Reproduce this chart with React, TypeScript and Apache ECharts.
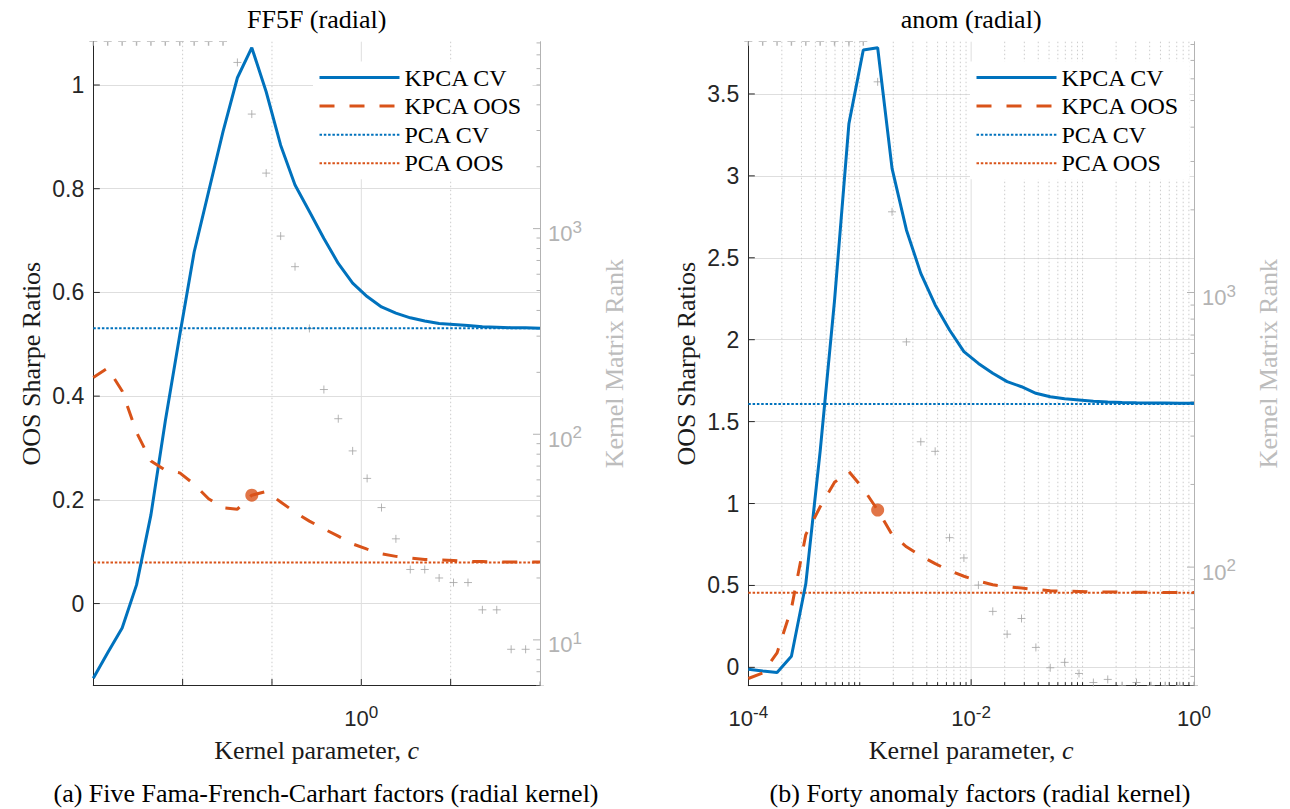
import React, { useEffect, useRef } from "react";
import * as echarts from "echarts";

// ---------------- Data: FF5F (radial) ----------------
// x positions: log2 of the kernel parameter c
const ffLog2C = [
  -3, -2.839, -2.677, -2.516, -2.355, -2.194, -2.032, -1.871, -1.71, -1.548, -1.387, -1.226, -1.065, -0.903, -0.742, -0.581,
  -0.419, -0.258, -0.097, 0.065, 0.226, 0.387, 0.548, 0.71, 0.871, 1.032, 1.194, 1.355, 1.516, 1.677, 1.839, 2,
];
const ffKpcaCv = [
  -0.144, -0.095, -0.047, 0.036, 0.171, 0.352, 0.518, 0.678, 0.794, 0.91, 1.014, 1.072, 0.987, 0.884, 0.807, 0.756,
  0.704, 0.656, 0.618, 0.592, 0.572, 0.56, 0.551, 0.545, 0.54, 0.538, 0.536, 0.534, 0.533, 0.532, 0.532, 0.531,
];
const ffKpcaOos = [
  0.436, 0.454, 0.41, 0.33, 0.275, 0.257, 0.252, 0.23, 0.202, 0.185, 0.182, 0.209, 0.216, 0.196, 0.176, 0.159,
  0.144, 0.13, 0.115, 0.105, 0.096, 0.091, 0.088, 0.085, 0.084, 0.083, 0.081, 0.081, 0.08, 0.08, 0.08, 0.08,
];
const ffPcaCv = 0.531;
const ffPcaOos = 0.079;
const ffRank = [
  8110, 8110, 8110, 8110, 8110, 8110, 8110, 8110, 8110, 8110, 6430, 3606, 1862, 920, 653, 327,
  165, 119, 83, 61, 44, 31, 22, 22, 20, 19, 19, 14, 14, 9, 9, 6,
];
const ffBestIndex = 11;

// ---------------- Data: anom (radial) ----------------
// x positions: log10 of the kernel parameter c
const anLog10C = [
  -4, -3.871, -3.742, -3.613, -3.484, -3.355, -3.226, -3.097, -2.968, -2.839, -2.71, -2.581, -2.452, -2.323, -2.194, -2.065,
  -1.935, -1.806, -1.677, -1.548, -1.419, -1.29, -1.161, -1.032, -0.903, -0.774, -0.645, -0.516, -0.387, -0.258, -0.129, 0,
];
const anKpcaCv = [
  -0.012, -0.022, -0.031, 0.068, 0.51, 1.32, 2.24, 3.319, 3.768, 3.782, 3.046, 2.67, 2.405, 2.212, 2.059, 1.927,
  1.855, 1.795, 1.744, 1.713, 1.673, 1.652, 1.64, 1.632, 1.624, 1.62, 1.617, 1.615, 1.614, 1.613, 1.612, 1.612,
];
const anKpcaOos = [
  -0.068, -0.035, 0.088, 0.36, 0.81, 0.98, 1.13, 1.195, 1.09, 0.96, 0.81, 0.736, 0.68, 0.633, 0.59, 0.556,
  0.527, 0.504, 0.493, 0.484, 0.475, 0.468, 0.465, 0.463, 0.461, 0.46, 0.459, 0.458, 0.458, 0.457, 0.457, 0.457,
];
const anPcaCv = 1.607;
const anPcaOos = 0.456;
const anRank = [
  8190, 8190, 8190, 8190, 8190, 8190, 8190, 8190, 8190, 5850, 1967, 661, 286, 264, 128, 108,
  86, 69, 57, 65, 51, 43, 45, 41, 38, 39, 37, 38, 37, 37, 37, 37,
];
const anBestIndex = 9;

// ---------------- Axis ranges and ticks ----------------
const ffXRange = [-3, 2];
const anXRange = [-4, 0];
const ffSharpeRange = [-0.158, 1.0835];
const anSharpeRange = [-0.112, 3.819];
const ffRankRange = [6, 8110];
const anRankRange = [37, 8190];

const ffSharpeTicks = [0, 0.2, 0.4, 0.6, 0.8, 1];
const anSharpeTicks = [0, 0.5, 1, 1.5, 2, 2.5, 3, 3.5];
const ffXTicks = [-2, -1, 0, 1];
const ffXSolidGrid = [0];
const ffXDottedGrid = [-2, -1, 1];
const anXMajorTicks = [-2];
const anXUnlabeledDecades = [-3, -1];
const ffRankMajor = [1, 2, 3];
const anRankMajor = [2, 3];
const MANTISSAS = [2, 3, 4, 5, 6, 7, 8, 9];

const LEGEND_NAMES = ["KPCA CV", "KPCA OOS", "PCA CV", "PCA OOS"];
const TITLES = ["FF5F (radial)", "anom (radial)"];
const CAPTIONS = [
  "(a) Five Fama-French-Carhart factors (radial kernel)",
  "(b) Forty anomaly factors (radial kernel)",
];
const Y_NAME = "OOS Sharpe Ratios";
const RANK_NAME = "Kernel Matrix Rank";
const X_NAME = "Kernel parameter, {i|c}";

// ---------------- Styling ----------------
const BLUE = "#0072BD";
const ORANGE = "#D95319";
const AXIS_COLOR = "#262626";
const RANK_COLOR = "#b3b3b3";
const RANK_NAME_COLOR = "#bdbdbd";
const RANK_MARK = "#a3a3a3";
const GRID_SOLID = "#dedede";
const GRID_DOT = "#cccccc";
const FONT_SERIF = "Liberation Serif";
const FONT_SANS = "Liberation Sans";
const SERIF_SIZE = 26;

const GRID_L = { left: 93.3, top: 41.7, width: 446.7, height: 643.8 };
const GRID_R = { left: 748.3, top: 41.7, width: 445.7, height: 644 };

const PLUS = "path://M0,5L10,5M5,0L5,10";
const PLUS_TOP = "path://M0,0L10,0M5,0L5,5";
const PLUS_BOTTOM = "path://M0,5L10,5M5,0L5,5";

function logMinorTicks(lo: number, hi: number): number[] {
  const out: number[] = [];
  for (let e = Math.floor(lo); e <= Math.ceil(hi); e++) {
    for (const m of MANTISSAS) {
      const v = e + Math.log10(m);
      if (v > lo + 1e-6 && v < hi - 1e-6) out.push(v);
    }
  }
  return out;
}

const powRich = (color: string) => ({
  b: { fontFamily: FONT_SANS, fontSize: 22, color, lineHeight: 30, verticalAlign: "middle" },
  s: { fontFamily: FONT_SANS, fontSize: 17, color, lineHeight: 30, verticalAlign: "top" },
});

// kind 0: x tick/grid, kind 1: left (Sharpe) tick, kind 2: right (rank) tick
const makeDecorRender = (tickColor: string) => (params: any, api: any) => {
  const cs = params.coordSys;
  const pos = api.value(0);
  const kind = api.value(1);
  const len = api.value(2);
  const grid = api.value(3);
  const children: any[] = [];
  if (kind === 0) {
    const px = api.coord([pos, 0])[0];
    const bottom = cs.y + cs.height;
    if (grid > 0) {
      children.push({
        type: "line",
        shape: { x1: px, y1: cs.y, x2: px, y2: bottom },
        style: grid === 2 ? { stroke: GRID_SOLID, lineWidth: 1 } : { stroke: GRID_DOT, lineWidth: 1, lineDash: [1.5, 2.5] },
      });
    }
    if (len > 0) {
      children.push({ type: "line", shape: { x1: px, y1: bottom, x2: px, y2: bottom - len }, style: { stroke: tickColor, lineWidth: 1 } });
    }
  } else if (kind === 1) {
    const py = api.coord([0, pos])[1];
    children.push({ type: "line", shape: { x1: cs.x, y1: py, x2: cs.x + len, y2: py }, style: { stroke: tickColor, lineWidth: 1 } });
  } else {
    const py = api.coord([0, pos])[1];
    const right = cs.x + cs.width;
    children.push({ type: "line", shape: { x1: right, y1: py, x2: right - len, y2: py }, style: { stroke: tickColor, lineWidth: 1 } });
  }
  return { type: "group", children };
};

function decorSeries(xAxisIndex: number, yAxisIndex: number, items: number[][], color: string) {
  return { type: "custom", xAxisIndex, yAxisIndex, silent: true, z: 1, clip: false, data: items, renderItem: makeDecorRender(color) };
}

function rankPoints(logC: number[], rank: number[], range: number[]) {
  const lo = Math.log10(range[0]);
  const hi = Math.log10(range[1]);
  return rank.map((r, k) => {
    const y = Math.log10(r);
    const item: any = { value: [logC[k], y] };
    if (y >= hi - 1e-9) {
      item.symbol = PLUS_TOP; item.symbolSize = [8, 4]; item.symbolOffset = [0, 2];
    } else if (y <= lo + 1e-9) {
      item.symbol = PLUS_BOTTOM; item.symbolSize = [8, 4]; item.symbolOffset = [0, -2];
    }
    return item;
  });
}

const zip = (xs: number[], ys: number[]) => xs.map((x, i) => [x, ys[i]]);

function plotSeries(p: number, logC: number[], cv: number[], oos: number[], pcaCv: number, pcaOos: number, rank: number[], rankRange: number[], best: number) {
  const xi = p, yi = 2 * p, ri = 2 * p + 1;
  const last = logC.length - 1;
  return [
    { type: "line", name: "PCA CV", xAxisIndex: xi, yAxisIndex: yi, z: 3, symbol: "none", data: [[logC[0], pcaCv], [logC[last], pcaCv]], lineStyle: { color: BLUE, width: 2, type: [2.5, 1.8] }, itemStyle: { color: BLUE } },
    { type: "line", name: "PCA OOS", xAxisIndex: xi, yAxisIndex: yi, z: 3, symbol: "none", data: [[logC[0], pcaOos], [logC[last], pcaOos]], lineStyle: { color: ORANGE, width: 2, type: [2.5, 1.8] }, itemStyle: { color: ORANGE } },
    { type: "scatter", name: "rank", xAxisIndex: xi, yAxisIndex: ri, z: 2, clip: false, symbol: PLUS, symbolSize: 8, itemStyle: { color: RANK_MARK, borderColor: RANK_MARK, borderWidth: 1 }, data: rankPoints(logC, rank, rankRange) },
    { type: "line", name: "KPCA CV", xAxisIndex: xi, yAxisIndex: yi, z: 4, symbol: "none", data: zip(logC, cv), lineStyle: { color: BLUE, width: 3 }, itemStyle: { color: BLUE } },
    { type: "line", name: "KPCA OOS", xAxisIndex: xi, yAxisIndex: yi, z: 4, symbol: "none", data: zip(logC, oos), lineStyle: { color: ORANGE, width: 3, type: [15, 15] }, itemStyle: { color: ORANGE } },
    { type: "scatter", name: "best", xAxisIndex: xi, yAxisIndex: yi, z: 5, symbol: "circle", symbolSize: 13, itemStyle: { color: ORANGE }, data: [[logC[best], oos[best]]] },
  ];
}

function sharpeAxis(gridIndex: number, range: number[], step: number) {
  return {
    type: "value", gridIndex, min: range[0], max: range[1], minInterval: step, maxInterval: step, splitNumber: 6,
    axisLine: { show: true, onZero: false, lineStyle: { color: AXIS_COLOR, width: 1 } },
    axisTick: { show: false },
    axisLabel: { showMinLabel: false, showMaxLabel: false, margin: 9, fontFamily: FONT_SANS, fontSize: 23, color: AXIS_COLOR },
    splitLine: { show: true, showMinLine: false, showMaxLine: false, lineStyle: { color: GRID_SOLID, width: 1 } },
  };
}

function rankAxis(gridIndex: number, range: number[]) {
  return {
    type: "value", gridIndex, position: "right", min: Math.log10(range[0]), max: Math.log10(range[1]), minInterval: 1, maxInterval: 1,
    axisLine: { show: true, onZero: false, lineStyle: { color: RANK_COLOR, width: 1 } },
    axisTick: { show: false }, splitLine: { show: false },
    axisLabel: { showMinLabel: false, showMaxLabel: false, margin: 8, padding: [10, 0, 0, 0], formatter: (v: number) => `{b|10}{s|${Math.round(v)}}`, rich: powRich(RANK_COLOR) },
  };
}

function xAxis(gridIndex: number, range: number[], interval: number, labelled: (v: number) => boolean) {
  return {
    type: "value", gridIndex, min: range[0], max: range[1], interval,
    axisLine: { show: true, onZero: false, lineStyle: { color: AXIS_COLOR, width: 1 } },
    axisTick: { show: false }, splitLine: { show: false },
    axisLabel: { margin: 18, formatter: (v: number) => (labelled(v) ? `{b|10}{s|${Math.round(v)}}` : ""), rich: powRich(AXIS_COLOR) },
  };
}

function textEl(text: string, x: number, y: number, color: string, rotation = 0, rich?: any) {
  const style: any = { text, fontFamily: FONT_SERIF, fontSize: SERIF_SIZE, fill: color, align: "center", verticalAlign: "middle" };
  if (rich) style.rich = rich;
  return { type: "text", x, y, rotation, silent: true, z: 10, style };
}

function buildOption() {
  const ffDecor: number[][] = [
    ...ffXTicks.map((v) => [v, 0, 6.5, ffXSolidGrid.includes(v) ? 2 : ffXDottedGrid.includes(v) ? 1 : 0]),
    ...ffSharpeTicks.map((v) => [v, 1, 6.5, 0]),
  ];
  const ffRankDecor: number[][] = [
    ...ffRankMajor.map((v) => [v, 2, 7, 0]),
    ...logMinorTicks(Math.log10(ffRankRange[0]), Math.log10(ffRankRange[1])).map((v) => [v, 2, 3.5, 0]),
  ];
  const anDecor: number[][] = [
    ...anXMajorTicks.map((v) => [v, 0, 6.5, 2]),
    ...[...anXUnlabeledDecades, ...logMinorTicks(anXRange[0], anXRange[1])].map((v) => [v, 0, 3.5, 1]),
    ...anSharpeTicks.map((v) => [v, 1, 6.5, 0]),
  ];
  const anRankDecor: number[][] = [
    ...anRankMajor.map((v) => [v, 2, 7, 0]),
    ...logMinorTicks(Math.log10(anRankRange[0]), Math.log10(anRankRange[1])).map((v) => [v, 2, 3.5, 0]),
  ];

  const legendBase = {
    orient: "vertical", itemWidth: 80, itemHeight: 14, itemGap: 4.6, data: LEGEND_NAMES, selectedMode: false,
    backgroundColor: "#ffffff", borderWidth: 0, padding: [4, 10, 4, 5], itemStyle: { opacity: 0 }, lineStyle: { width: "inherit" },
    textStyle: { fontFamily: FONT_SERIF, fontSize: 24, lineHeight: 24, color: "#000" },
  };

  const italicRich = { i: { fontFamily: FONT_SERIF, fontSize: SERIF_SIZE, fontStyle: "italic", fill: "#1a1a1a" } };
  const midL = GRID_L.top + GRID_L.height / 2;
  const midR = GRID_R.top + GRID_R.height / 2;
  const cxL = GRID_L.left + GRID_L.width / 2;
  const cxR = GRID_R.left + GRID_R.width / 2;

  return {
    animation: false,
    backgroundColor: "#ffffff",
    grid: [
      { ...GRID_L, containLabel: false, outerBoundsMode: "none" },
      { ...GRID_R, containLabel: false, outerBoundsMode: "none" },
    ],
    xAxis: [xAxis(0, ffXRange, 1, (v) => v === 0), xAxis(1, anXRange, 2, () => true)],
    yAxis: [sharpeAxis(0, ffSharpeRange, 0.2), rankAxis(0, ffRankRange), sharpeAxis(1, anSharpeRange, 0.5), rankAxis(1, anRankRange)],
    legend: [{ ...legendBase, left: 313, top: 61.5 }, { ...legendBase, left: 970, top: 61.5 }],
    graphic: [
      textEl(TITLES[0], cxL, 19.5, "#000"),
      textEl(TITLES[1], cxR, 19.5, "#000"),
      textEl(CAPTIONS[0], 326, 793, "#000"),
      textEl(CAPTIONS[1], 980, 793, "#000"),
      textEl(Y_NAME, 31, midL, "#1a1a1a", Math.PI / 2),
      textEl(Y_NAME, 686, midR, "#1a1a1a", Math.PI / 2),
      textEl(RANK_NAME, 614, midL, RANK_NAME_COLOR, Math.PI / 2),
      textEl(RANK_NAME, 1268, midR, RANK_NAME_COLOR, Math.PI / 2),
      textEl(X_NAME, cxL, 750, "#1a1a1a", 0, italicRich),
      textEl(X_NAME, cxR, 750, "#1a1a1a", 0, italicRich),
    ],
    series: [
      decorSeries(0, 0, ffDecor, AXIS_COLOR),
      decorSeries(0, 1, ffRankDecor, RANK_COLOR),
      decorSeries(1, 2, anDecor, AXIS_COLOR),
      decorSeries(1, 3, anRankDecor, RANK_COLOR),
      ...plotSeries(0, ffLog2C, ffKpcaCv, ffKpcaOos, ffPcaCv, ffPcaOos, ffRank, ffRankRange, ffBestIndex),
      ...plotSeries(1, anLog10C, anKpcaCv, anKpcaOos, anPcaCv, anPcaOos, anRank, anRankRange, anBestIndex),
    ],
  };
}

export default function App() {
  const ref = useRef<HTMLDivElement>(null);
  useEffect(() => {
    if (!ref.current) return;
    const chart = echarts.init(ref.current, undefined, { renderer: "svg" });
    chart.setOption(buildOption() as any);
    return () => chart.dispose();
  }, []);
  return <div ref={ref} style={{ position: "fixed", left: 0, top: 0, width: 1290, height: 809, background: "#ffffff" }} />;
}
